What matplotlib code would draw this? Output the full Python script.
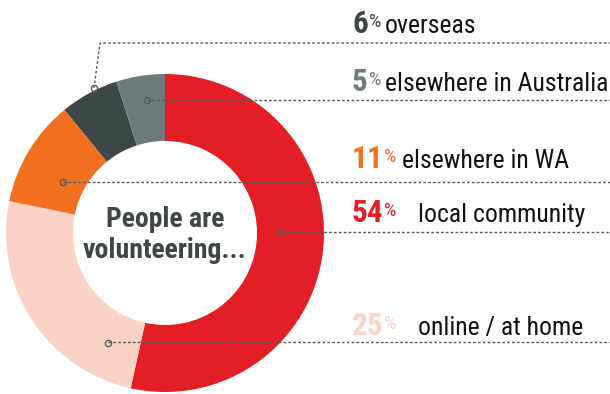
import matplotlib.pyplot as plt

# share of volunteers by where they volunteer (clockwise from top)
shares = [54, 25, 11, 6, 5]
pct_labels = ['54', '25', '11', '6', '5']
places = ['local community', 'online / at home', 'elsewhere in WA', 'overseas', 'elsewhere in Australia']
colors = ['#E31E26', '#FBD3C6', '#F37021', '#3E4746', '#6F7B7A']
center_text = 'People are\nvolunteering...'

H = 394
FONT = ['Roboto Condensed', 'DejaVu Sans']
LINE_COL = '#555b5a'

# layout in pixels (y from top): marker, elbow, line y, text baseline, label x
markers = [(280, 232), (108, 343), (63, 182), (94, 88), (147, 100)]
elbows = [None, None, None, (100, 43), None]
line_y = [232, 342, 182, 43, 100]
text_y = [222, 335, 168, 33, 91]
label_x = [418, 418, 402, 385, 385]
num_x = 352

fig = plt.figure(figsize=(6.1, 3.94), dpi=100)
ax = fig.add_axes([0, 0, 1, 1])
ax.pie(shares, colors=colors, startangle=90, counterclock=False,
       radius=159, center=(165, H - 233),
       wedgeprops=dict(width=67, linewidth=0))
ax.set_xlim(0, 610)
ax.set_ylim(0, H)
ax.axis('off')

ax.text(165, H - 235, center_text, ha='center', va='center', family=FONT,
        fontsize=20, fontweight='bold', color='#3E4746', linespacing=1.2)

for i in range(len(shares)):
    mx, my = markers[i]
    ly = line_y[i]
    if elbows[i] is None:
        xs = [mx, 610]
        ys = [H - ly, H - ly]
    else:
        ex, ey = elbows[i]
        xs = [mx, ex, 610]
        ys = [H - my, H - ey, H - ey]
    ax.plot(xs, ys, color=LINE_COL, lw=1, linestyle=(0, (2, 1.5)), zorder=3)
    ax.plot(mx, H - my, 'o', ms=4.5, mfc='none', mec=LINE_COL, mew=1, zorder=4)

    t = ax.text(num_x, H - text_y[i], pct_labels[i], family=FONT, fontsize=22.5,
                fontweight='bold', color=colors[i], va='baseline', ha='left')
    ax.annotate('%', xy=(1, 1), xytext=(0.5, -3), xycoords=t, textcoords='offset points',
                family=FONT, fontsize=14, color=colors[i], va='top', ha='left')
    ax.text(label_x[i], H - text_y[i], places[i], family=FONT, fontsize=18.5,
            color='#111111', va='baseline', ha='left')

fig.savefig('out.png', dpi=100)
